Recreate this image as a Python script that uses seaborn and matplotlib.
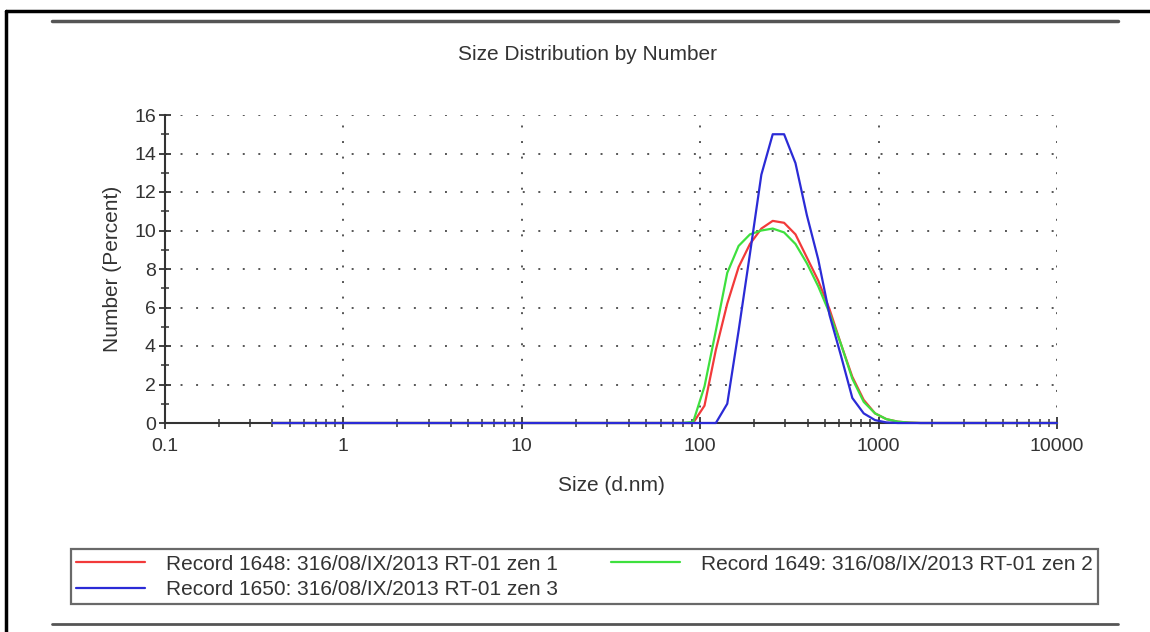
"""
Size distribution by number: three DLS records on a log size axis.
"""

import pandas as pd
import matplotlib.pyplot as plt
import matplotlib.ticker as mticker
from matplotlib.lines import Line2D
import seaborn as sns

# Size classes (d.nm)
sizes = [0.4, 78.82, 91.28, 105.7, 122.4, 141.8, 164.2, 190.1, 220.2, 255.0,
         295.3, 342.0, 396.1, 458.7, 531.2, 615.1, 712.4, 825.0, 955.4,
         1106, 1281, 1484, 1718, 10000]

# Number (%) per size class
rec_1648 = [0, 0, 0, 0.9, 3.8, 6.2, 8.1, 9.3, 10.1, 10.5, 10.4, 9.8, 8.6, 7.4,
            5.9, 4.1, 2.4, 1.2, 0.5, 0.2, 0.07, 0.02, 0, 0]
rec_1649 = [0, 0, 0.05, 1.9, 4.8, 7.8, 9.2, 9.8, 10.0, 10.1, 9.9, 9.3, 8.3, 7.1,
            5.7, 4.1, 2.3, 1.1, 0.5, 0.2, 0.07, 0.02, 0, 0]
rec_1650 = [0, 0, 0, 0, 0, 1.0, 4.8, 8.8, 12.9, 15.0, 15.0, 13.5, 10.8, 8.5,
            5.6, 3.5, 1.3, 0.5, 0.15, 0.03, 0, 0, 0, 0]

labels = ['Record 1648: 316/08/IX/2013 RT-01 zen 1',
          'Record 1649: 316/08/IX/2013 RT-01 zen 2',
          'Record 1650: 316/08/IX/2013 RT-01 zen 3']
colors = ['#f23a3a', '#3ee03e', '#2b2bd6']

x_ticks = [0.1, 1, 10, 100, 1000, 10000]
x_tick_labels = ['0.1', '1', '10', '100', '1000', '10000']
y_ticks = [0, 2, 4, 6, 8, 10, 12, 14, 16]

sns.set_style('white')
plt.rcParams['font.family'] = ['Liberation Sans', 'DejaVu Sans']
plt.rcParams['text.color'] = '#333333'

df = pd.concat([
    pd.DataFrame({'size': sizes, 'number': vals, 'record': lab})
    for vals, lab in zip([rec_1648, rec_1649, rec_1650], labels)
])

fig = plt.figure(figsize=(11.5, 6.32), dpi=100)
ax = fig.add_axes([165 / 1150, 1 - 423 / 632, 892 / 1150, 308 / 632])

sns.lineplot(data=df, x='size', y='number', hue='record', hue_order=labels,
             palette=colors, linewidth=1.6, sort=False, estimator=None,
             legend=False, ax=ax)
# curves sit on top of the axis line, as in the instrument report
for line in ax.get_lines():
    line.set_zorder(3)
    line.set_clip_on(False)

ax.set_xscale('log')
ax.set_xlim(0.1, 10000)
ax.set_ylim(0, 16)
ax.set_xticks(x_ticks)
ax.set_xticklabels(x_tick_labels)
ax.xaxis.set_minor_locator(mticker.LogLocator(base=10, subs=range(2, 10), numticks=20))
ax.xaxis.set_minor_formatter(mticker.NullFormatter())
ax.set_yticks(y_ticks)
ax.yaxis.set_minor_locator(mticker.MultipleLocator(1))

ax.grid(True, which='major', color='#555555', linestyle=(0, (1, 7)), linewidth=1.4)
ax.set_axisbelow(True)

for side in ['top', 'right']:
    ax.spines[side].set_visible(False)
for side in ['left', 'bottom']:
    ax.spines[side].set_color('#333333')
    ax.spines[side].set_linewidth(1.5)

ax.tick_params(axis='both', which='both', bottom=True, left=True)
ax.tick_params(axis='both', which='major', direction='inout', length=9, width=1.3,
               color='#333333', labelsize=14, labelcolor='#333333', pad=2)
ax.tick_params(axis='both', which='minor', direction='inout', length=6, width=1.1,
               color='#333333')
ax.tick_params(axis='x', which='major', pad=6)

ax.set_xlabel('Size (d.nm)', fontsize=15, color='#333333')
ax.set_ylabel('Number (Percent)', fontsize=15, color='#333333')
ax.xaxis.set_label_coords(0.5, -0.172)
ax.yaxis.set_label_coords(-0.048, 0.5)

fig.text(587 / 1150, 1 - 55 / 632, 'Size Distribution by Number', fontsize=15,
         ha='center', va='center', color='#333333')

# legend: two columns, red/blue left, green right
handles = ax.get_lines()[:3]
order = [0, 2, 1]
leg = fig.legend([handles[i] for i in order], [labels[i] for i in order],
                 loc='lower left', ncol=2, mode='expand',
                 bbox_to_anchor=(71 / 1150, 1 - 604 / 632, 1027 / 1150, 56 / 632),
                 fontsize=15, handlelength=3.3, handletextpad=1.0,
                 labelspacing=0.3, borderpad=0.25, borderaxespad=0,
                 fancybox=False, frameon=True)
leg.get_frame().set_edgecolor('#444444')
leg.get_frame().set_linewidth(1.6)

# page frame and separator rules
fig.add_artist(Line2D([6 / 1150, 1], [1 - 11 / 632] * 2, color='black', linewidth=2.5))
fig.add_artist(Line2D([6 / 1150] * 2, [0, 1 - 11 / 632], color='black', linewidth=2.5))
fig.add_artist(Line2D([52 / 1150, 1118 / 1150], [1 - 21 / 632] * 2, color='#555555', linewidth=2.5))
fig.add_artist(Line2D([52 / 1150, 1118 / 1150], [1 - 624 / 632] * 2, color='#555555', linewidth=2))

plt.savefig('out.png', dpi=100)
plt.close()
